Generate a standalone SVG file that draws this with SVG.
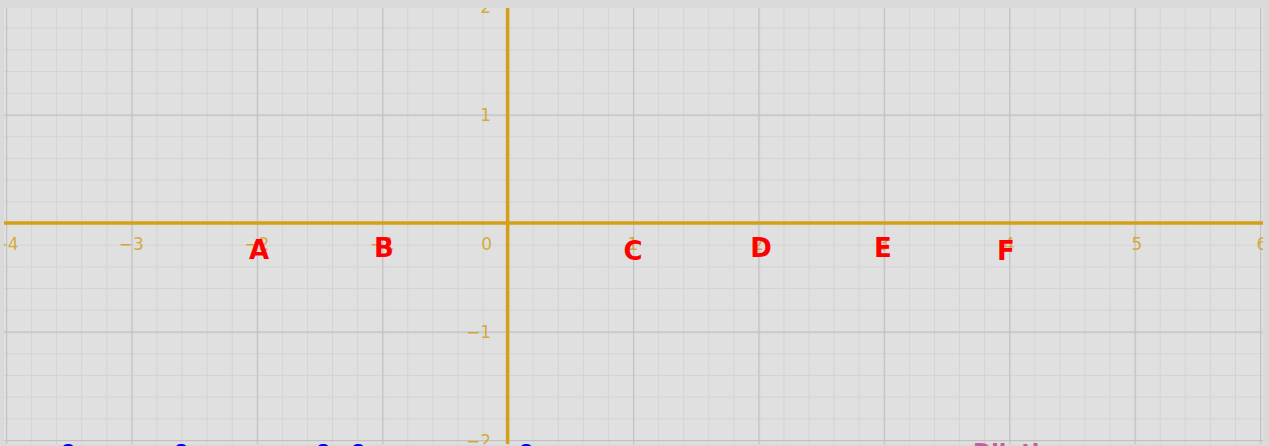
<svg xmlns="http://www.w3.org/2000/svg" width="1269" height="446" viewBox="0 0 1269 446">
<defs>
<clipPath id="plot"><rect x="4" y="8" width="1259" height="436"/></clipPath>
<pattern id="minor" x="6" y="6" width="25.08" height="21.7" patternUnits="userSpaceOnUse">
<path d="M0 0V21.7M0 0H25.08" fill="none" stroke="#d3d3d3" stroke-width="2"/>
</pattern>
<pattern id="major" x="6" y="6" width="125.4" height="108.5" patternUnits="userSpaceOnUse">
<path d="M0 0V108.5M0 0H125.4" fill="none" stroke="#c2c2c2" stroke-width="2.5"/>
</pattern>
</defs>
<style>
.tick{font-family:"DejaVu Sans",sans-serif;font-size:17px;fill:#d4a017;fill-opacity:0.85}
.lbl{font-family:"DejaVu Sans",sans-serif;font-weight:bold;font-size:26px;fill:#ff0000;text-anchor:middle}
.blue{font-family:"DejaVu Sans",sans-serif;font-weight:bold;font-size:20px;fill:#0000ff;text-anchor:middle}
.pink{font-family:"DejaVu Sans",sans-serif;font-weight:bold;font-size:22px;fill:#c060a0}
</style>
<rect width="1269" height="446" fill="#dadada"/>
<g id="plotarea" clip-path="url(#plot)">
<rect x="4" y="8" width="1259" height="436" fill="#e0e0e0"/>
<rect x="4" y="8" width="1259" height="436" fill="url(#minor)"/>
<rect x="4" y="8" width="1259" height="436" fill="url(#major)"/>
<g id="axes" stroke="#d4a017" stroke-width="3.5">
<line x1="4" y1="223" x2="1263" y2="223"/>
<line x1="507.6" y1="0" x2="507.6" y2="446"/>
</g>
<g id="xticks" class="tick" text-anchor="middle">
<text x="6" y="250">−4</text>
<text x="131.4" y="250">−3</text>
<text x="256.8" y="250">−2</text>
<text x="382.2" y="250">−1</text>
<text x="633" y="250">1</text>
<text x="758.4" y="250">2</text>
<text x="883.8" y="250">3</text>
<text x="1009.2" y="250">4</text>
<text x="1137" y="250">5</text>
<text x="1262" y="250">6</text>
</g>
<g id="yticks" class="tick" text-anchor="end">
<text x="492" y="250">0</text>
<text x="491" y="13">2</text>
<text x="491" y="121">1</text>
<text x="491" y="338">−1</text>
<text x="491" y="447">−2</text>
</g>
</g>
<g id="A"><text class="lbl" x="259" y="259">A</text></g>
<g id="B"><text class="lbl" x="384" y="257">B</text></g>
<g id="C"><text class="lbl" x="633" y="260">C</text></g>
<g id="D"><text class="lbl" x="761" y="257">D</text></g>
<g id="E"><text class="lbl" x="883" y="257">E</text></g>
<g id="F"><text class="lbl" x="1006" y="260">F</text></g>
<g id="connectors"/>
<g id="bottom">
<text class="blue" x="68" y="455">o</text>
<text class="blue" x="181" y="455">o</text>
<text class="blue" x="323" y="455">o</text>
<text class="blue" x="358" y="455">o</text>
<text class="blue" x="526" y="455">o</text>
<text class="pink" x="973" y="459">Dilation</text>
</g>
</svg>
